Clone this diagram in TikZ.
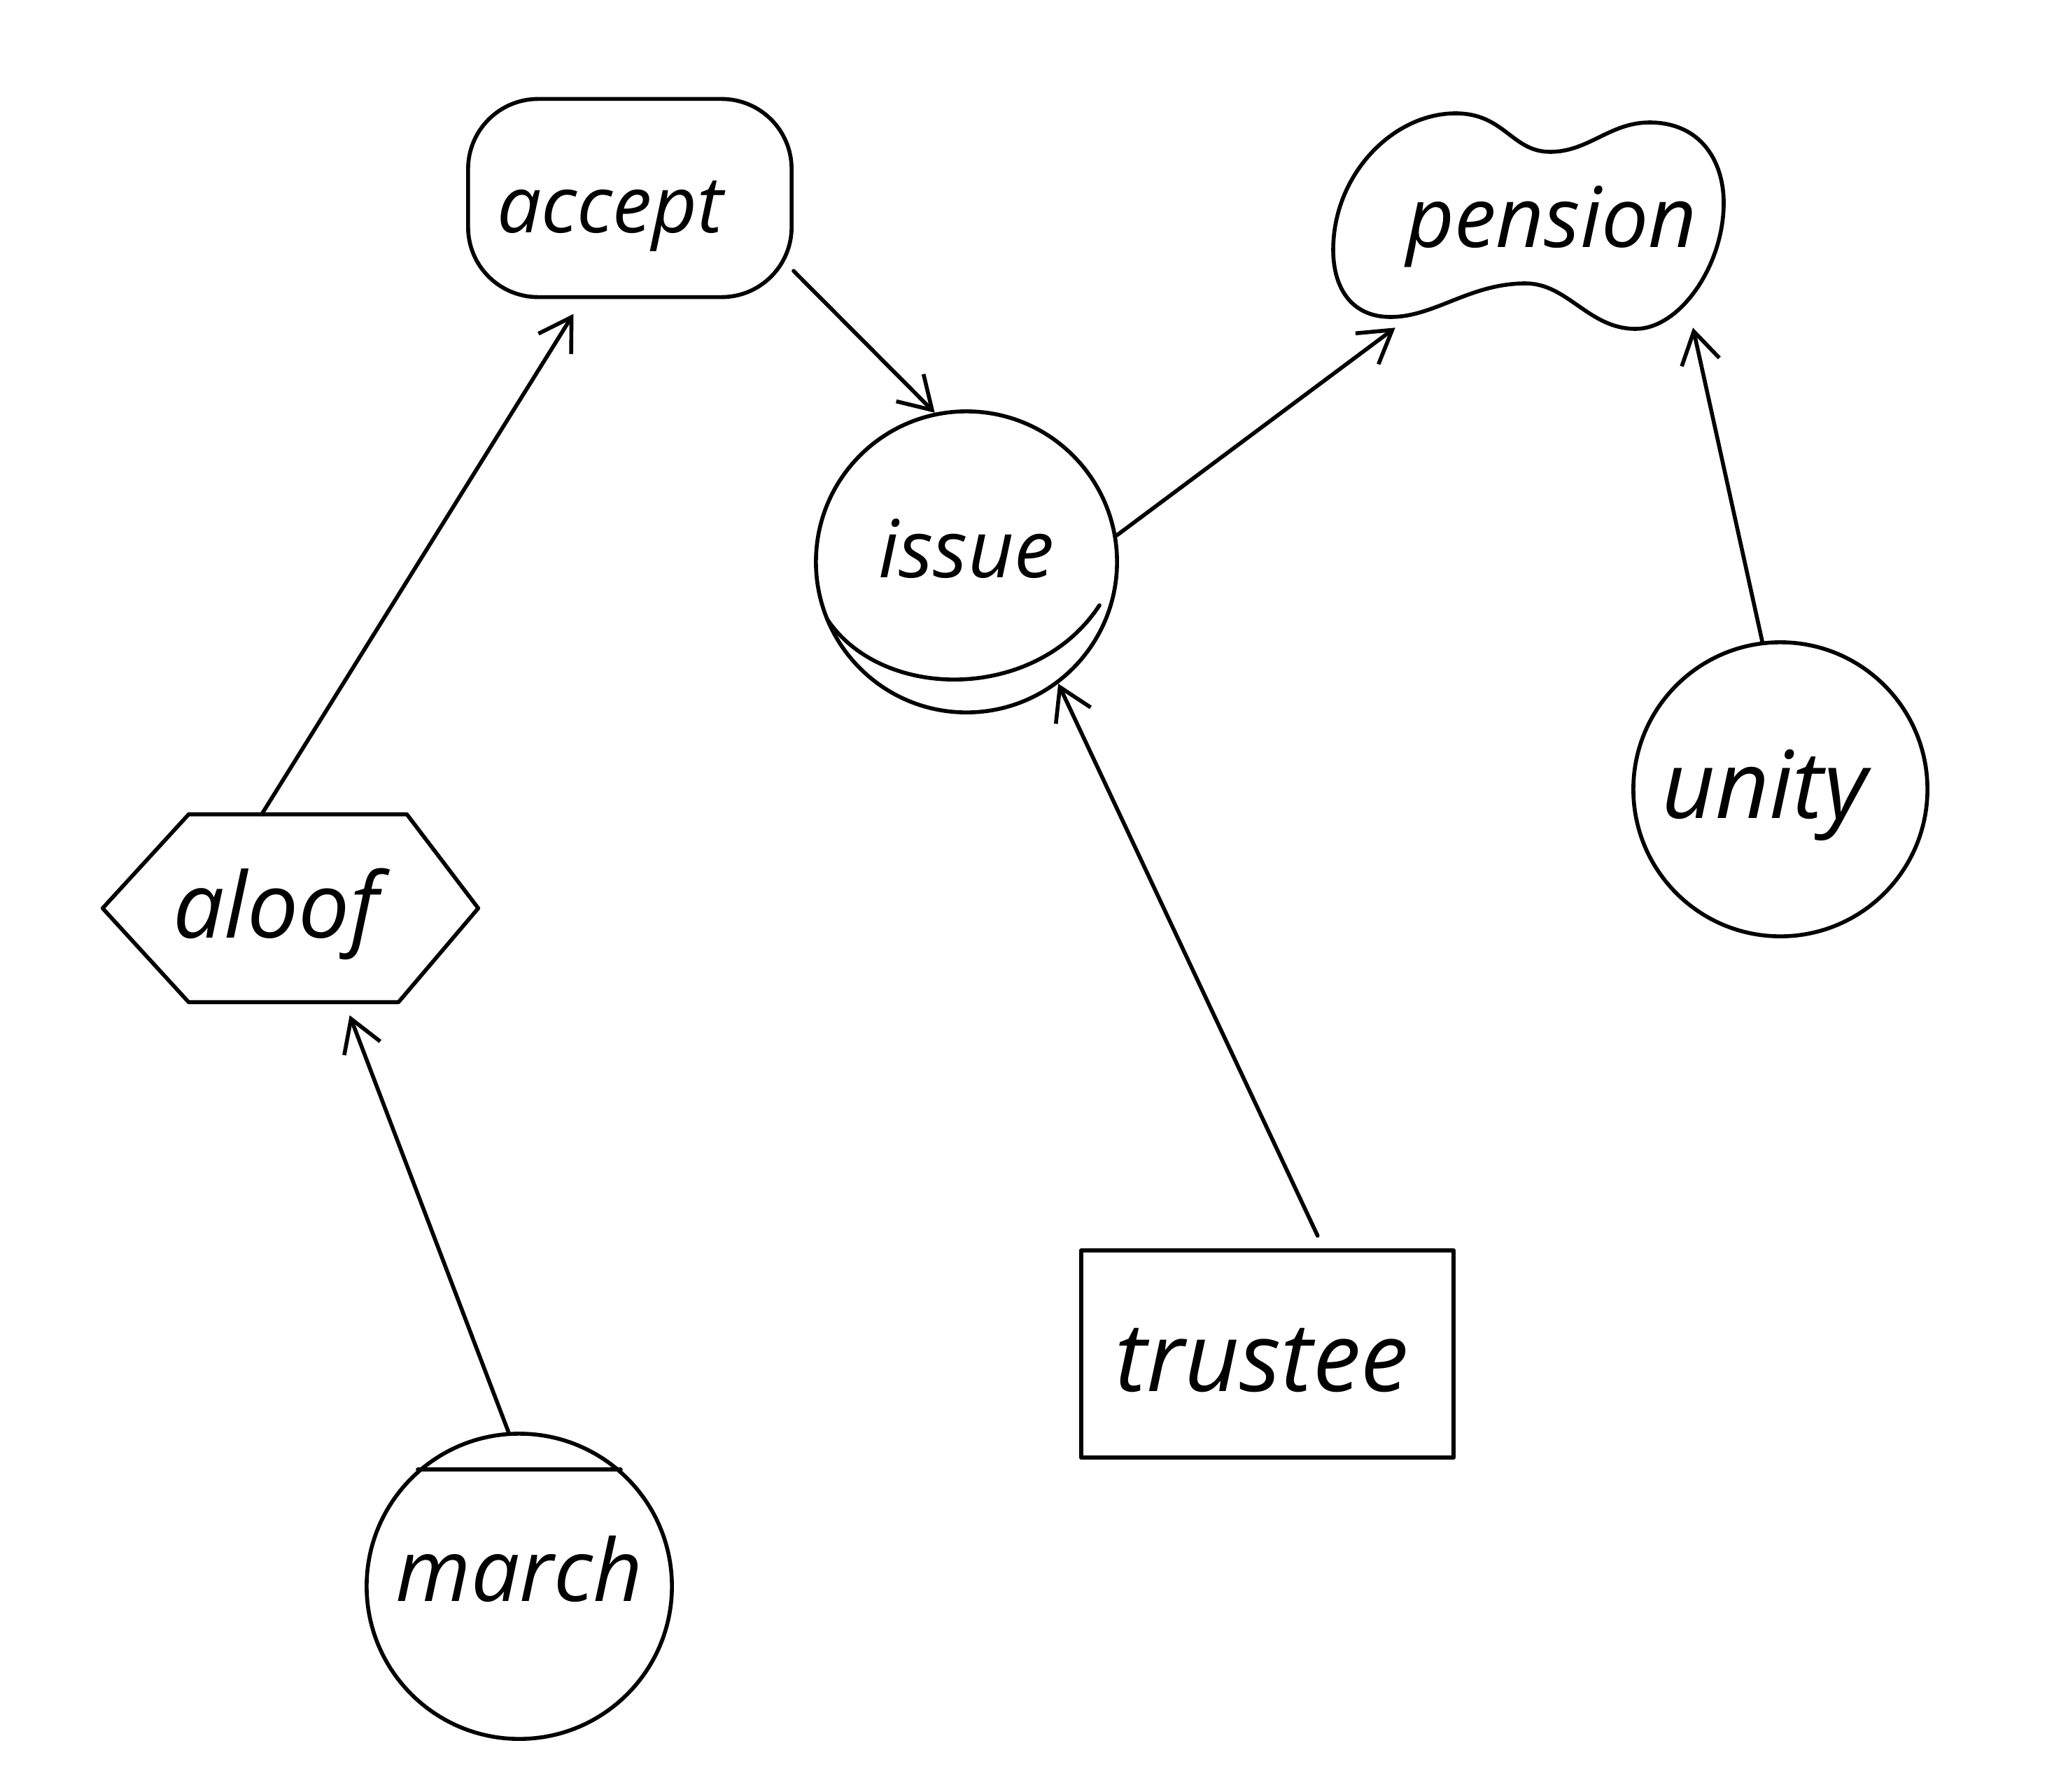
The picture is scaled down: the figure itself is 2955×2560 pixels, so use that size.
\documentclass[tikz,border=0pt]{standalone}
\usepackage{fontspec}
\setmainfont{Open Sans}
\usetikzlibrary{arrows.meta,calc}
\newcommand\fsz[1]{\fontsize{#1}{#1}\selectfont}
\tikzset{
  ln/.style={line width=1.6pt, line cap=round, line join=round},
  shp/.style={ln, draw, inner sep=0pt},
  ghost/.style={inner sep=0pt},
  arr/.style={ln, -{Straight Barb[length=4.5mm,width=5.5mm,line width=1.6pt]}},
  txt/.style={font=\itshape\fsz{#1}},
}
\begin{document}
\begin{tikzpicture}[x=0.01cm,y=-0.01cm]
\useasboundingbox (0,0) rectangle (2955,2560);
% nodes
\node[shp, rectangle, rounded corners=1cm, minimum width=4.62cm, minimum height=2.83cm,
  label={[txt=32, xshift=-0.28cm, yshift=-0.26cm]center:accept}] (accept) at (900,283) {};
\node[shp, circle, minimum size=4.3cm,
  label={[txt=32.5, yshift=0.19cm]center:issue}] (issue) at (1381,803) {};
\node[ghost, rectangle, minimum width=5.6cm, minimum height=3.05cm,
  label={[txt=34, xshift=0.34cm, yshift=-0.09cm]center:pension}] (pension) at (2183,315) {};
\node[shp, circle, minimum size=4.2cm,
  label={[txt=38, xshift=-0.23cm, yshift=-0.08cm]center:unity}] (unity) at (2544,1128) {};
\node[ghost, rectangle, minimum width=5.35cm, minimum height=2.67cm,
  label={[txt=37, xshift=-0.21cm, yshift=-0.08cm]center:aloof}] (aloof) at (415,1298) {};
\node[shp, rectangle, minimum width=5.32cm, minimum height=2.96cm,
  label={[txt=39, xshift=-0.08cm, yshift=-0.09cm]center:trustee}] (trustee) at (1811,1935) {};
\node[shp, circle, minimum size=4.36cm,
  label={[txt=35, yshift=0.25cm]center:march}] (march) at (742,2267) {};
% shape outlines drawn directly
\draw[ln] (aloof.west) -- ($(aloof.north west)+(123,0)$) -- ($(aloof.north east)+(-102,0)$)
  -- (aloof.east) -- ($(aloof.south east)+(-114,0)$) -- ($(aloof.south west)+(123,0)$) -- cycle;
\draw[ln] (1905,357) .. controls (1905,250) and (1990,162) .. (2080,162)
  .. controls (2150,162) and (2160,217) .. (2215,217)
  .. controls (2270,217) and (2300,175) .. (2357,175)
  .. controls (2430,175) and (2463,230) .. (2463,290)
  .. controls (2463,380) and (2400,470) .. (2337,470)
  .. controls (2270,470) and (2240,405) .. (2180,405)
  .. controls (2100,405) and (2050,453) .. (1987,453)
  .. controls (1930,453) and (1905,410) .. cycle;
\draw[ln] ($(issue)+(-199,82)$) .. controls ($(issue)+(-120,200)$) and ($(issue)+(100,200)$) .. ($(issue)+(190,62)$);
\draw[ln] (march.131) -- (march.49);
% connectors
\draw[arr, shorten >=0.25cm] (aloof.107) -- (accept.245);
\draw[arr] (accept.336) -- (issue.102);
\draw[arr] (issue.10) -- (pension.219);
\draw[arr] (unity.97) -- (pension.327);
\draw[arr, shorten >=0.2cm] (march.94) -- (aloof.300);
\draw[arr, shorten <=0.2cm] (trustee.62) -- (issue.307);
\end{tikzpicture}
\end{document}
